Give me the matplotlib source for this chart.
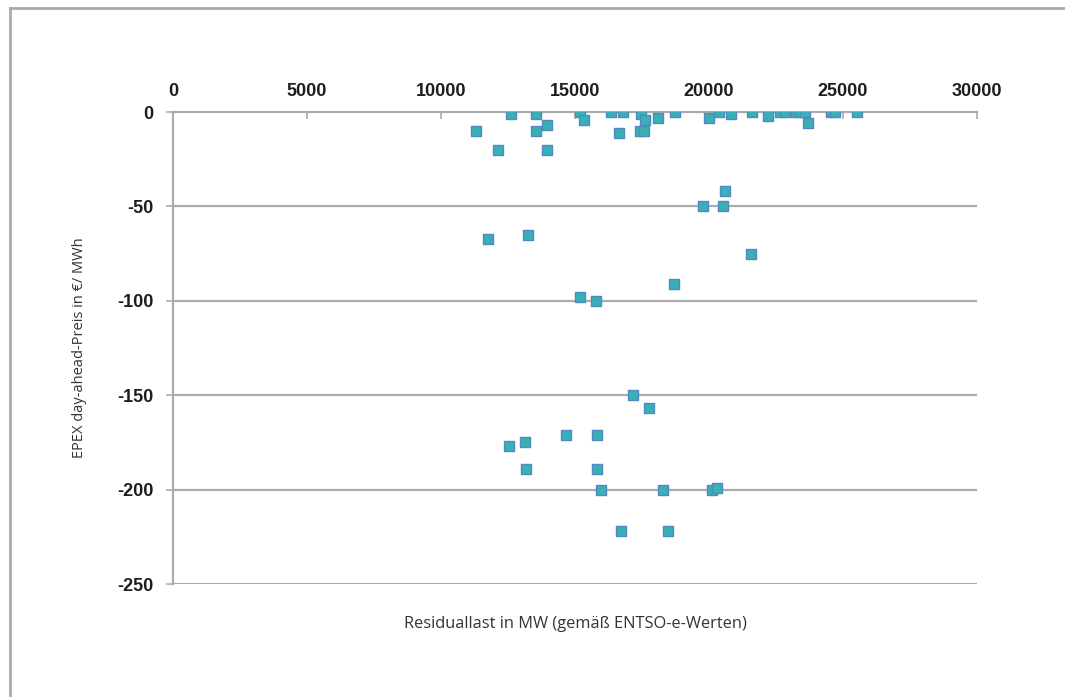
import matplotlib.pyplot as plt
from matplotlib.lines import Line2D

plt.rcParams['axes.unicode_minus'] = False

# Residuallast (MW) and EPEX day-ahead price (EUR/MWh)
residuallast = [
    11300, 12600, 13530, 13530, 13950, 12110, 13950, 15190, 15330, 16350,
    16780, 16630, 17450, 17620, 17420, 17570, 18100, 18730, 20010, 20380,
    20810, 21610, 22210, 22650, 22850, 23230, 23390, 23580, 23700, 24550,
    24700, 25530,
    20600, 19790, 20510, 11740, 13230, 15190, 15770, 18690, 21550,
    17170, 17760, 12540, 13130, 14650, 15810, 13170, 15830, 15960, 18270,
    20100, 20310, 16700, 18480,
]
preis = [
    -10, -1, -1, -10, -7, -20, -20, 0, -4, 0,
    0, -11, -1, -4, -10, -10, -3, 0, -3, 0,
    -1, 0, -2, 0, 0, 0, 0, 0, -6, 0,
    0, 0,
    -42, -50, -50, -67, -65, -98, -100, -91, -75,
    -150, -157, -177, -175, -171, -171, -189, -189, -200, -200,
    -200, -199, -222, -222,
]
x_ticks = [0, 5000, 10000, 15000, 20000, 25000, 30000]
y_ticks = [0, -50, -100, -150, -200, -250]

grid_col = '#ababab'
fig = plt.figure(figsize=(10.65, 6.97), dpi=100)
ax = fig.add_axes([0.1624, 0.1621, 0.755, 0.6772])

ax.set_xlim(0, 30000)
ax.set_ylim(-250, 0)
ax.set_xticks(x_ticks)
ax.set_yticks(y_ticks)
ax.xaxis.tick_top()
ax.xaxis.set_label_position('bottom')

for y in y_ticks[1:]:
    ax.axhline(y, color=grid_col, lw=1.6, zorder=1)

ax.scatter(residuallast, preis, marker='s', s=58, facecolor='#38b0b6',
           edgecolor='#5289c2', linewidth=1.0, zorder=3)

for side in ['right', 'bottom']:
    ax.spines[side].set_visible(False)
ax.spines['top'].set_color(grid_col)
ax.spines['top'].set_linewidth(1.6)
ax.spines['left'].set_color(grid_col)
ax.spines['left'].set_linewidth(1.6)

ax.tick_params(axis='x', direction='in', length=5, width=1.2, color=grid_col,
               pad=9, labelsize=13)
ax.tick_params(axis='y', direction='out', length=5, width=1.2, color=grid_col,
               pad=9, labelsize=13)
for lab in ax.get_xticklabels() + ax.get_yticklabels():
    lab.set_family('Liberation Sans')
    lab.set_fontweight('bold')
    lab.set_color('#1e1e1e')

ax.set_xlabel('Residuallast in MW (gemäß ENTSO-e-Werten)', family='Open Sans',
              fontsize=11.8, color='#333333', labelpad=23)
ax.set_ylabel('EPEX day-ahead-Preis in €/ MWh', family='Open Sans',
              fontsize=10.5, color='#333333', labelpad=22)

# frame of the original figure (top and left edges)
fig.add_artist(Line2D([10 / 1065, 10 / 1065], [0, 1 - 8 / 697],
                      transform=fig.transFigure, color='#aaaaaa', lw=2))
fig.add_artist(Line2D([10 / 1065, 1], [1 - 8 / 697, 1 - 8 / 697],
                      transform=fig.transFigure, color='#aaaaaa', lw=2))

fig.savefig('out.png', dpi=100)
